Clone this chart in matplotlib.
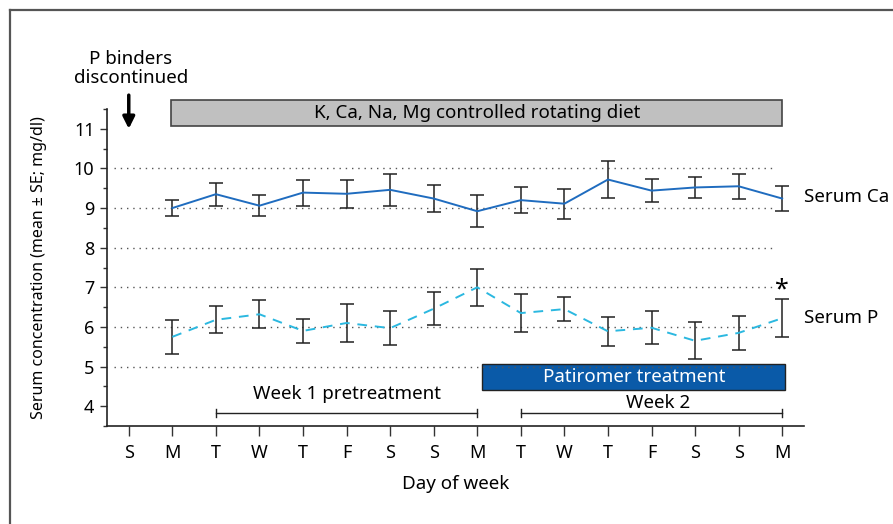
import numpy as np
import matplotlib.pyplot as plt
from matplotlib.patches import Rectangle
from matplotlib.lines import Line2D

plt.rcParams['font.family'] = ['Noto Sans', 'DejaVu Sans']

days = ['S', 'M', 'T', 'W', 'T', 'F', 'S', 'S', 'M', 'T', 'W', 'T', 'F', 'S', 'S', 'M']
day_idx = np.arange(1, 16)

ca_mean = [9.00, 9.35, 9.06, 9.39, 9.36, 9.46, 9.24, 8.92, 9.20, 9.11, 9.72, 9.44, 9.52, 9.55, 9.24]
ca_se = [0.20, 0.29, 0.27, 0.33, 0.36, 0.40, 0.33, 0.41, 0.33, 0.38, 0.46, 0.29, 0.27, 0.31, 0.32]

p_mean = [5.75, 6.18, 6.32, 5.90, 6.10, 5.97, 6.46, 7.00, 6.35, 6.45, 5.89, 5.98, 5.65, 5.85, 6.22]
p_se = [0.43, 0.34, 0.35, 0.30, 0.49, 0.43, 0.41, 0.47, 0.47, 0.30, 0.37, 0.41, 0.47, 0.43, 0.48]

grid_levels = [5, 6, 7, 8, 9, 10]

fig = plt.figure(figsize=(8.93, 5.24), dpi=100)
ax = fig.add_axes([0.1198, 0.187, 0.7805, 0.605])

# figure frame (top and left only)
fig.add_artist(Line2D([10/893, 1], [1 - 10/524, 1 - 10/524], transform=fig.transFigure, color='#555555', lw=1.6))
fig.add_artist(Line2D([10/893, 10/893], [0, 1 - 10/524], transform=fig.transFigure, color='#555555', lw=1.6))

ax.hlines(grid_levels, -0.35, 14.85, colors='#555555', linestyles=(0, (1, 3.5)), lw=1.0)

ax.errorbar(day_idx, ca_mean, yerr=ca_se, color='#1f6cbf', lw=1.4,
            ecolor='#222222', elinewidth=1.1, capsize=5, capthick=1.1)
ax.errorbar(day_idx, p_mean, yerr=p_se, color='#2bb8e0', lw=1.4, ls=(0, (5, 4)),
            ecolor='#222222', elinewidth=1.1, capsize=5, capthick=1.1)

ax.set_xlim(-0.5, 15.5)
ax.set_ylim(3.5, 11.5)
ax.set_xticks(np.arange(16))
ax.set_xticklabels(days, fontsize=13)
ax.set_yticks(np.arange(4, 12))
ax.set_yticklabels([str(v) for v in range(4, 12)], fontsize=13)
ax.set_yticks(np.arange(3.5, 11.6, 0.5), minor=True)
ax.tick_params(axis='y', which='major', length=5, width=1, color='#333333', pad=4)
ax.tick_params(axis='y', which='minor', length=3, width=1, color='#333333')
ax.tick_params(axis='x', length=7, width=1, color='#333333', pad=6)
for s in ['top', 'right']:
    ax.spines[s].set_visible(False)
for s in ['left', 'bottom']:
    ax.spines[s].set_color('#222222')
    ax.spines[s].set_linewidth(1.2)

ax.set_xlabel('Day of week', fontsize=13.5, labelpad=9)
ax.set_ylabel('Serum concentration (mean \u00b1 SE; mg/dl)', fontsize=11.5, labelpad=19)

# diet box
ax.add_patch(Rectangle((0.97, 11.07), 14.03, 0.66, facecolor='#c0c0c0', edgecolor='#444444',
                       lw=1.2, clip_on=False))
ax.text(8.0, 11.40, 'K, Ca, Na, Mg controlled rotating diet', ha='center', va='center',
        fontsize=13.5, clip_on=False)

# P binders arrow
ax.annotate('', xy=(0, 10.93), xytext=(0, 11.92), xycoords='data',
            arrowprops=dict(arrowstyle='-|>,head_width=0.35,head_length=0.7', color='black', lw=2.5),
            annotation_clip=False)
ax.text(0.05, 12.05, 'P binders\ndiscontinued', ha='center', va='bottom', fontsize=13.5,
        linespacing=1.1, clip_on=False)

# patiromer box
ax.add_patch(Rectangle((8.1, 4.40), 6.97, 0.66, facecolor='#0a5aa8', edgecolor='#222222',
                       lw=1.0, clip_on=False))
ax.text(11.6, 4.74, 'Patiromer treatment', ha='center', va='center', fontsize=13.5, color='white')

# week brackets
for x0, x1 in [(2, 8), (9, 15)]:
    ax.plot([x0, x1], [3.82, 3.82], color='#222222', lw=1.0)
    ax.plot([x0, x0], [3.72, 3.92], color='#222222', lw=1.0)
    ax.plot([x1, x1], [3.72, 3.92], color='#222222', lw=1.0)
ax.text(5.0, 4.32, 'Week 1 pretreatment', ha='center', va='center', fontsize=13.5)
ax.text(12.15, 4.07, 'Week 2', ha='center', va='center', fontsize=13.5)

ax.text(15.5, 9.28, 'Serum Ca', ha='left', va='center', fontsize=13.5, clip_on=False)
ax.text(15.5, 6.22, 'Serum P', ha='left', va='center', fontsize=13.5, clip_on=False)
ax.text(15.0, 6.93, '*', ha='center', va='center', fontsize=18, fontweight='bold')

fig.savefig('out.png', dpi=100)
